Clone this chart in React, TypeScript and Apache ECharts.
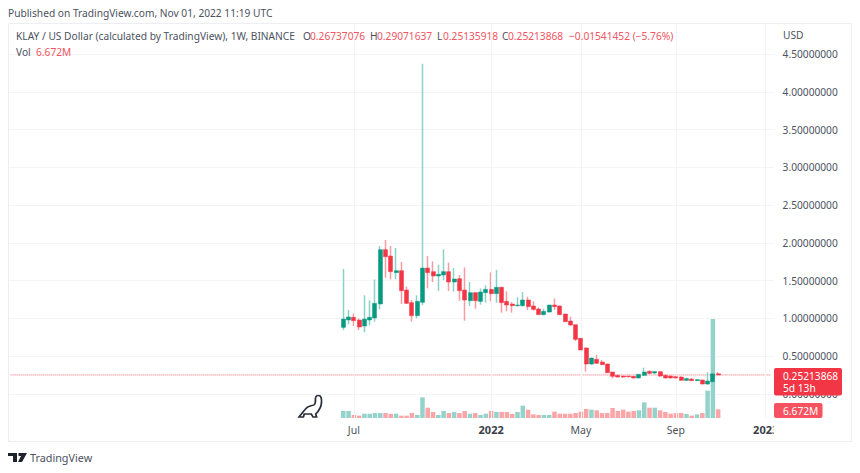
import React, { useEffect, useRef } from "react";
import * as echarts from "echarts";

const FONT = "'Noto Sans', sans-serif";
const TEXT_SIZE = 10.2;
const GREY = "#4c525e";
const RED_TEXT = "#f2555f";
const UP = "#089981";
const DOWN = "#f23645";
const UP_WICK = "#8ad2c6";
const DOWN_WICK = "#f99ba2";
const UP_VOL = "#93d3cc";
const DOWN_VOL = "#faa6a8";
const GRID_LINE = "#f3f4f6";

// [open, close, low, high]
const candles: number[][] = [
  [0.882, 0.992, 0.847, 1.654], [0.979, 1.019, 0.922, 1.112], [1.015, 0.97, 0.9, 1.067], [0.979, 0.887, 0.847, 1.001],
  [0.9, 0.992, 0.816, 1.306], [0.979, 1.015, 0.909, 1.24], [1.006, 1.2, 0.957, 1.517], [1.191, 1.91, 1.12, 1.959],
  [1.91, 1.817, 1.539, 2.038], [1.826, 1.619, 1.517, 1.959], [1.606, 1.632, 1.517, 1.932], [1.632, 1.367, 1.191, 1.747],
  [1.376, 1.2, 1.191, 1.42], [1.209, 1.037, 0.957, 1.244], [1.037, 1.226, 1.001, 1.306], [1.213, 1.667, 1.178, 4.37],
  [1.667, 1.606, 1.398, 1.826], [1.619, 1.562, 1.482, 1.756], [1.562, 1.584, 1.363, 1.712], [1.575, 1.619, 1.509, 1.914],
  [1.619, 1.482, 1.363, 1.738], [1.482, 1.522, 1.354, 1.667], [1.526, 1.367, 1.235, 1.575], [1.376, 1.244, 0.97, 1.676],
  [1.235, 1.341, 1.165, 1.482], [1.341, 1.235, 1.129, 1.35], [1.226, 1.35, 1.182, 1.398], [1.341, 1.385, 1.209, 1.438],
  [1.385, 1.328, 1.226, 1.61], [1.328, 1.412, 1.209, 1.641], [1.412, 1.209, 1.076, 1.42], [1.226, 1.178, 1.094, 1.359],
  [1.191, 1.169, 1.076, 1.217], [1.169, 1.178, 1.156, 1.279], [1.169, 1.244, 1.156, 1.35], [1.244, 1.156, 1.112, 1.288],
  [1.165, 1.12, 1.103, 1.226], [1.125, 1.05, 1.05, 1.147], [1.05, 1.094, 1.041, 1.129], [1.085, 1.178, 1.076, 1.178],
  [1.178, 1.156, 1.112, 1.262], [1.165, 1.05, 1.05, 1.173], [1.059, 0.957, 0.957, 1.062], [0.966, 0.913, 0.9, 1.023],
  [0.917, 0.723, 0.701, 0.917], [0.737, 0.582, 0.582, 0.741], [0.609, 0.397, 0.296, 0.618], [0.397, 0.476, 0.384, 0.48],
  [0.459, 0.406, 0.397, 0.516], [0.423, 0.388, 0.384, 0.45], [0.397, 0.282, 0.278, 0.402], [0.291, 0.234, 0.207, 0.291],
  [0.247, 0.225, 0.216, 0.256], [0.238, 0.225, 0.212, 0.243], [0.238, 0.229, 0.22, 0.241], [0.234, 0.212, 0.204, 0.238],
  [0.212, 0.26, 0.207, 0.265], [0.247, 0.291, 0.238, 0.348], [0.3, 0.273, 0.26, 0.313], [0.278, 0.296, 0.26, 0.305],
  [0.296, 0.238, 0.225, 0.3], [0.247, 0.212, 0.204, 0.256], [0.238, 0.212, 0.204, 0.247], [0.229, 0.212, 0.207, 0.234],
  [0.225, 0.181, 0.176, 0.234], [0.181, 0.203, 0.172, 0.22], [0.198, 0.176, 0.172, 0.212], [0.176, 0.19, 0.172, 0.198],
  [0.185, 0.132, 0.128, 0.19], [0.132, 0.172, 0.119, 0.287], [0.163, 0.267, 0.163, 0.34], [0.26737076, 0.25213868, 0.25135918, 0.29071637],
];

const volumes: number[] = [
  5.4, 5.4, 2.3, 1.8, 3.3, 3.3, 3.8, 3.8, 3.8, 3.1, 3.3, 1.8, 1.8, 3.8, 2.3, 15.9, 7.9, 4.6,
  2.3, 5.4, 3.8, 4.6, 3.8, 5.4, 3.3, 3.8, 2.3, 3.3, 5.4, 4.6, 4.6, 4.6, 3.1, 4.6, 9.5, 6.4,
  2.8, 2.3, 2.3, 2.3, 4.9, 3.3, 3.3, 3.3, 3.8, 4.9, 6.9, 6.4, 5.9, 3.8, 3.8, 7.7, 5.4, 6.4,
  4.9, 5.4, 5.9, 12, 7.9, 7.9, 5.9, 4.6, 3.3, 3.8, 3.8, 3.1, 1.8, 2.8, 3.8, 21, 76, 6.672,
];

const LEADING_SLOTS = 63;
const TRAILING_SLOTS = 10;
const SLOT_COUNT = LEADING_SLOTS + candles.length + TRAILING_SLOTS;
const timeLabels: Record<number, string> = { 65: "Jul", 91: "2022", 108: "May", 126: "Sep", 143: "2023" };
const yearLabels = ["2022", "2023"];
const lastPrice = 0.25213868;

const categories = Array.from({ length: SLOT_COUNT }, (_, i) => timeLabels[i] ?? String(i));
const pad = (list: any[], empty: any): any[] => {
  const out: any[] = new Array(SLOT_COUNT).fill(empty);
  list.forEach((v, i) => (out[LEADING_SLOTS + i] = v));
  return out;
};
const EMPTY_CANDLE = ["-", "-", "-", "-"];

const dino = "M6 30 L13 20 C16 15 19 16 23 14 C26 12 24 6 25 4 C26 1 30 1 31 4 C32 7 32 14 30 18 C28 23 26 25 25 26 L26 30 L22 30 L20 26 L12 26 L11 30 L7 30 Z";
const logoPath = "M0 0 H9 V9 H5 V3 H0 Z M10.5 0 H19 L14 9 H10 L13 3 H10.5 Z";
echarts.graphic.registerShape("dinoShape", echarts.graphic.extendPath(dino, {}));
echarts.graphic.registerShape("tvLogo", echarts.graphic.extendPath(logoPath, {}));

export default function App() {
  const ref = useRef<HTMLDivElement>(null);
  useEffect(() => {
    if (!ref.current) return;
    const chart = echarts.init(ref.current, undefined, { renderer: "svg" });
    const text = (x: number, y: number, t: string, fill = GREY, size = TEXT_SIZE) => ({
      type: "text",
      x,
      y,
      z: 32,
      style: { text: t, fill, font: `${size}px ${FONT}`, verticalAlign: "middle" },
    });
    const upFlags = candles.map((c) => c[1] >= c[0]);
    const isLabelled = (i: number) => timeLabels[i] !== undefined;
    const hiddenCategory = (gridIndex: number) => ({
      type: "category",
      gridIndex,
      data: categories,
      axisLine: { show: false },
      axisTick: { show: false },
      axisLabel: { show: false },
      splitLine: { show: false },
    });
    const option: any = {
      animation: false,
      backgroundColor: "#ffffff",
      grid: [
        { left: 8, top: 54, width: 765.6, height: 340 },
        { left: 8, top: 319, width: 765.6, height: 99 },
        { left: 8, top: 24, width: 765.6, height: 394 },
      ],
      xAxis: [
        hiddenCategory(0),
        {
          ...hiddenCategory(1),
          axisLabel: {
            show: true,
            interval: isLabelled,
            hideOverlap: false,
            color: GREY,
            margin: 6,
            fontFamily: FONT,
            fontSize: 10.5,
            formatter: (v: string) => (yearLabels.includes(v) ? `{y|${v}}` : v),
            rich: { y: { fontWeight: "bold", fontFamily: FONT, fontSize: 11, color: "#3a3f4a" } },
          },
        },
        hiddenCategory(2),
      ],
      yAxis: [
        {
          type: "value",
          gridIndex: 0,
          position: "right",
          min: 0,
          max: 4.5,
          interval: 0.5,
          axisLine: { show: false },
          axisTick: { show: false },
          axisLabel: {
            color: GREY,
            margin: 9,
            fontFamily: FONT,
            fontSize: TEXT_SIZE,
            formatter: (v: number) => v.toFixed(8),
          },
          splitLine: { show: true, lineStyle: { color: GRID_LINE, width: 1 } },
        },
        { type: "value", gridIndex: 1, position: "right", min: 0, max: 76, show: false },
        { type: "value", gridIndex: 2, position: "right", min: 0, max: 1, show: false },
      ],
      series: [
        {
          name: "Time grid",
          type: "line",
          xAxisIndex: 2,
          yAxisIndex: 2,
          data: pad([], "-"),
          showSymbol: false,
          z: 1,
          markLine: {
            silent: true,
            symbol: "none",
            label: { show: false },
            lineStyle: { color: GRID_LINE, type: "solid", width: 1 },
            data: Object.values(timeLabels).map((name) => ({ xAxis: name })),
          },
        },
        {
          name: "Volume",
          type: "bar",
          xAxisIndex: 1,
          yAxisIndex: 1,
          barWidth: 4.5,
          data: pad(volumes.map((v, i) => ({ value: v, itemStyle: { color: upFlags[i] ? UP_VOL : DOWN_VOL } })), "-"),
          z: 2,
        },
        {
          name: "Last price",
          type: "line",
          xAxisIndex: 0,
          yAxisIndex: 0,
          data: categories.map(() => lastPrice),
          showSymbol: false,
          symbol: "none",
          silent: true,
          lineStyle: { color: "#f23645", type: "dotted", width: 1, opacity: 0.75 },
          z: 3,
        },
        {
          name: "Wicks",
          type: "candlestick",
          xAxisIndex: 0,
          yAxisIndex: 0,
          barWidth: 1,
          clip: false,
          data: pad(candles, EMPTY_CANDLE),
          itemStyle: { color: UP_WICK, color0: DOWN_WICK, borderColor: UP_WICK, borderColor0: DOWN_WICK, borderWidth: 1.5 },
          z: 4,
        },
        {
          name: "KLAY / US Dollar",
          type: "candlestick",
          xAxisIndex: 0,
          yAxisIndex: 0,
          barWidth: 4.5,
          clip: false,
          data: pad(candles.map(([o, c]) => [o, c, Math.min(o, c), Math.max(o, c)]), EMPTY_CANDLE),
          itemStyle: { color: UP, color0: DOWN, borderColor: UP, borderColor0: DOWN, borderWidth: 0.5 },
          z: 5,
        },
      ],
      graphic: [
        { type: "rect", shape: { x: 773.6, y: 419, width: 40, height: 22 }, style: { fill: "#fff" }, z: 5 },
        { type: "rect", shape: { x: 8.5, y: 23.5, width: 843, height: 418 }, style: { fill: "none", stroke: "#eceef1", lineWidth: 1 }, z: 6 },
        text(8, 13, "Published on TradingView.com, Nov 01, 2022 11:19 UTC"),
        text(16, 36, "KLAY / US Dollar (calculated by TradingView), 1W, BINANCE"),
        text(303, 36, "O"), text(310, 36, "0.26737076", RED_TEXT),
        text(370, 36, "H"), text(377, 36, "0.29071637", RED_TEXT),
        text(437, 36, "L"), text(443, 36, "0.25135918", RED_TEXT),
        text(502, 36, "C"), text(508, 36, "0.25213868", RED_TEXT),
        text(569, 36, "\u22120.01541452 (\u22125.76%)", RED_TEXT),
        text(16, 52, "Vol"), text(36, 52, "6.672M", RED_TEXT),
        text(783, 35, "USD"),
        { type: "rect", shape: { x: 774, y: 368, width: 68, height: 27.5, r: 2 }, style: { fill: "#f23645" }, z: 31 },
        text(783, 376, "0.25213868", "#fff"),
        text(783, 388, "5d 13h", "#fff"),
        { type: "rect", shape: { x: 774, y: 403, width: 48.5, height: 15, r: 2 }, style: { fill: "#f7525f" }, z: 31 },
        text(783, 411, "6.672M", "#fff"),
        { type: "dinoShape", x: 293.7, y: 394.2, scaleX: 0.88, scaleY: 0.76, z: 20, style: { fill: "none", stroke: "#2a2e39", lineWidth: 2 } },
        { type: "tvLogo", x: 8, y: 453, z: 20, style: { fill: "#1e222d" } },
        text(30, 457.5, "TradingView", GREY, 10.8),
      ],
    };
    chart.setOption(option);
    return () => chart.dispose();
  }, []);
  return <div ref={ref} style={{ width: 860, height: 473, position: "absolute", left: 0, top: 0 }} />;
}
